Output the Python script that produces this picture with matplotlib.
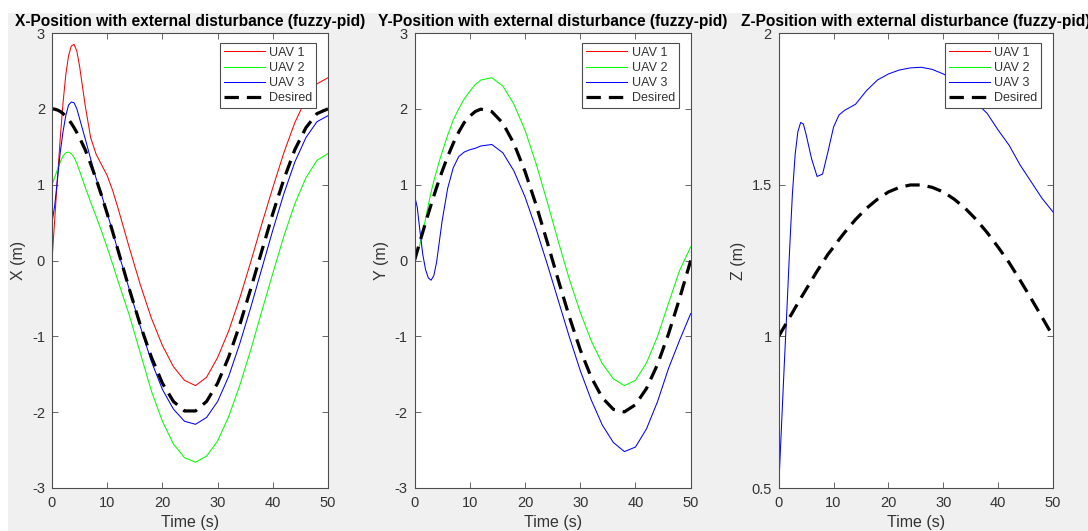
import matplotlib
matplotlib.use("Agg")
import matplotlib.pyplot as plt
from matplotlib.patches import Rectangle

plt.rcParams['font.family'] = ['Liberation Sans', 'DejaVu Sans']
plt.rcParams['axes.unicode_minus'] = False

# time samples (s)
t = [0, 0.5, 1, 1.5, 2, 2.5, 3, 3.5, 4, 4.5, 5, 6, 7, 8, 9, 10, 11, 12,
     14, 16, 18, 20, 22, 24, 26, 28, 30, 32, 34, 36, 38, 40, 42, 44, 46, 48, 50]

# X position (m)
x_uav1 = [0.0, 0.55, 1.10, 1.62, 2.08, 2.45, 2.70, 2.83, 2.85, 2.76, 2.56, 2.05, 1.62, 1.40,
          1.26, 1.12, 0.92, 0.68, 0.17, -0.32, -0.76, -1.12, -1.40, -1.58, -1.65, -1.54,
          -1.28, -0.93, -0.50, -0.02, 0.48, 0.96, 1.42, 1.82, 2.13, 2.33, 2.41]
x_uav2 = [1.0, 1.10, 1.20, 1.30, 1.38, 1.42, 1.43, 1.41, 1.36, 1.28, 1.18, 0.97, 0.77, 0.58,
          0.38, 0.17, -0.05, -0.28, -0.72, -1.22, -1.72, -2.12, -2.42, -2.60, -2.66, -2.58,
          -2.38, -2.06, -1.65, -1.18, -0.67, -0.17, 0.32, 0.75, 1.09, 1.32, 1.41]
x_uav3 = [0.5, 0.73, 1.08, 1.43, 1.70, 1.91, 2.05, 2.09, 2.08, 2.00, 1.87, 1.61, 1.34, 1.08,
          0.86, 0.62, 0.38, 0.11, -0.38, -0.87, -1.33, -1.70, -1.96, -2.12, -2.16, -2.07,
          -1.86, -1.53, -1.10, -0.62, -0.11, 0.40, 0.88, 1.30, 1.62, 1.83, 1.91]
x_des = [2.0, 1.996, 1.984, 1.965, 1.937, 1.902, 1.859, 1.809, 1.751, 1.687, 1.618, 1.463,
         1.274, 1.071, 0.852, 0.618, 0.375, 0.125, -0.375, -0.852, -1.274, -1.618, -1.859,
         -1.984, -1.984, -1.859, -1.618, -1.274, -0.852, -0.375, 0.125, 0.618, 1.071, 1.463,
         1.751, 1.937, 2.0]

# Y position (m)
y_uav2 = [0.0, 0.10, 0.22, 0.37, 0.55, 0.73, 0.90, 1.05, 1.18, 1.31, 1.43, 1.65, 1.85, 2.00,
          2.13, 2.23, 2.32, 2.38, 2.41, 2.30, 2.06, 1.72, 1.28, 0.78, 0.26, -0.24, -0.68,
          -1.06, -1.36, -1.56, -1.65, -1.58, -1.35, -1.00, -0.56, -0.13, 0.18]
y_uav3 = [0.86, 0.70, 0.38, 0.08, -0.12, -0.23, -0.26, -0.20, -0.02, 0.25, 0.52, 0.95, 1.22,
          1.37, 1.43, 1.46, 1.48, 1.51, 1.53, 1.42, 1.18, 0.84, 0.42, -0.04, -0.52, -1.00,
          -1.45, -1.84, -2.17, -2.40, -2.52, -2.46, -2.22, -1.86, -1.42, -1.05, -0.70]
y_des = [0.0, 0.126, 0.251, 0.375, 0.497, 0.618, 0.736, 0.852, 0.964, 1.071, 1.176, 1.369,
         1.543, 1.693, 1.819, 1.902, 1.965, 1.996, 1.963, 1.810, 1.541, 1.176, 0.736, 0.251,
         -0.251, -0.736, -1.176, -1.541, -1.810, -1.963, -1.996, -1.902, -1.687, -1.369,
         -0.964, -0.497, 0.0]

# Z position (m)
z_uav3 = [0.5, 0.70, 0.90, 1.09, 1.29, 1.47, 1.60, 1.675, 1.705, 1.70, 1.665, 1.585, 1.527,
          1.535, 1.61, 1.69, 1.73, 1.745, 1.765, 1.81, 1.845, 1.865, 1.878, 1.885, 1.887,
          1.88, 1.865, 1.845, 1.81, 1.77, 1.735, 1.68, 1.63, 1.565, 1.51, 1.455, 1.41]
z_des = [1.0, 1.016, 1.031, 1.047, 1.063, 1.078, 1.094, 1.109, 1.125, 1.140, 1.155, 1.185,
         1.215, 1.243, 1.271, 1.294, 1.319, 1.342, 1.385, 1.422, 1.452, 1.476, 1.491, 1.499,
         1.499, 1.491, 1.476, 1.452, 1.422, 1.385, 1.342, 1.294, 1.243, 1.185, 1.125,
         1.063, 1.0]

labels = ['UAV 1', 'UAV 2', 'UAV 3', 'Desired']
txt = '#333333'
edge = '#4d4d4d'

fig = plt.figure(figsize=(10.88, 5.31), dpi=100, facecolor='white')
# grey figure area of the screenshot (white strip on top and left)
fig.patches.append(Rectangle((8 / 1088, 0), 1, 518 / 531, transform=fig.transFigure,
                             facecolor='#f0f0f0', edgecolor='none', zorder=-10))

panels = [
    (52, 328, 'X', x_uav1, x_uav2, x_uav3, x_des, (-3, 3), [-3, -2, -1, 0, 1, 2, 3],
     ['-3', '-2', '-1', '0', '1', '2', '3']),
    (414.5, 690.7, 'Y', [], y_uav2, y_uav3, y_des, (-3, 3), [-3, -2, -1, 0, 1, 2, 3],
     ['-3', '-2', '-1', '0', '1', '2', '3']),
    (778.7, 1053, 'Z', [], [], z_uav3, z_des, (0.5, 2), [0.5, 1, 1.5, 2],
     ['0.5', '1', '1.5', '2']),
]

for x0, x1, name, s1, s2, s3, des, ylim, yt, ytl in panels:
    ax = fig.add_axes([x0 / 1088, 43 / 531, (x1 - x0) / 1088, 455 / 531])
    ax.plot(t[:len(s1)], s1, color='#ff0000', lw=0.75, label=labels[0])
    ax.plot(t[:len(s2)], s2, color='#00ff00', lw=0.75, label=labels[1])
    ax.plot(t[:len(s3)], s3, color='#0000ff', lw=0.75, label=labels[2])
    ax.plot(t, des, color='black', lw=2.3, dashes=(4.5, 2.5), label=labels[3])
    ax.set_xlim(0, 50)
    ax.set_ylim(*ylim)
    ax.set_xticks([0, 10, 20, 30, 40, 50])
    ax.set_yticks(yt)
    ax.set_yticklabels(ytl)
    ax.tick_params(direction='in', length=4, width=0.6, color=edge, labelcolor=txt,
                   labelsize=10.5, top=True, right=True)
    ax.tick_params(axis='x', pad=6)
    ax.tick_params(axis='y', pad=5)
    for sp in ax.spines.values():
        sp.set_color(edge)
        sp.set_linewidth(0.8)
    ax.set_title(f'{name}-Position with external disturbance (fuzzy-pid)',
                 fontsize=11.2, fontweight='bold', color='black', pad=5)
    ax.set_xlabel('Time (s)', fontsize=11.5, color=txt, labelpad=3)
    ax.set_ylabel(f'{name} (m)', fontsize=11.5, color=txt, labelpad=4)
    leg = ax.legend(loc='upper right', bbox_to_anchor=(0.957, 0.978), borderaxespad=0,
                    fontsize=9, handlelength=3.3, handletextpad=0.35, labelspacing=0.25,
                    borderpad=0.3, fancybox=False, framealpha=1)
    leg.get_frame().set_edgecolor(edge)
    leg.get_frame().set_linewidth(0.8)
    for tx in leg.get_texts():
        tx.set_color(txt)

fig.savefig('out.png', dpi=100, facecolor=fig.get_facecolor())
